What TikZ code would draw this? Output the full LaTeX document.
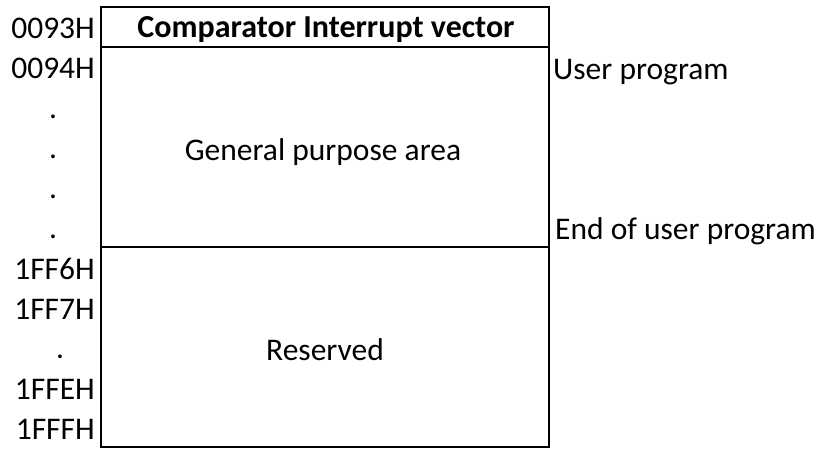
\documentclass[tikz,border=0pt]{standalone}
\usepackage{fontspec}
\setmainfont{Carlito}

\tikzset{
  addr/.style={anchor=base east,inner sep=0pt},
  gap/.style={anchor=base,inner sep=0pt},
  note/.style={anchor=base west,inner sep=0pt},
  area/.style={anchor=base,inner sep=0pt}
}

\begin{document}
\begin{tikzpicture}[x=1pt,y=-1pt,font=\fontsize{31.5}{36}\selectfont]
\useasboundingbox (0,0) rectangle (820,448);

\begin{scope}
\coordinate (tl) at (101,7);
\coordinate (tr) at (549,7);
\coordinate (hl) at (101,47);
\coordinate (hr) at (549,47);
\coordinate (ml) at (101,247);
\coordinate (mr) at (549,247);
\coordinate (bl) at (101,447);
\coordinate (br) at (549,447);

\draw[line width=2.5pt] (tl) -- (tr) -- (br) -- (bl) -- cycle;
\draw[line width=2.5pt] (hl) -- (hr);
\draw[line width=2.5pt] (ml) -- (mr);
\end{scope}

% contents of the map
\node[area,font=\fontsize{32}{36}\selectfont\bfseries] (vec) at (326,37) {Comparator Interrupt vector};
\node[area] (gen) at (323,160) {General purpose area};
\node[area] (res) at (325,360) {Reserved};

% addresses on the left
\node[addr] (a0) at (95,38) {0093H};
\node[addr] (a1) at (95,78) {0094H};
\node[gap] (d1) at (53,118) {.};
\node[gap] (d2) at (53,158) {.};
\node[gap] (d3) at (53,198) {.};
\node[gap] (d4) at (53,238) {.};
\node[addr] (a2) at (95,279) {1FF6H};
\node[addr] (a3) at (95,319) {1FF7H};
\node[gap] (d5) at (60,358) {.};
\node[addr] (a4) at (95,399) {1FFEH};
\node[addr] (a5) at (95,439) {1FFFH};

% notes on the right
\node[note] (usr) at (553,79) {User program};
\node[note] (eou) at (555,239) {End of user program};

\end{tikzpicture}
\end{document}
